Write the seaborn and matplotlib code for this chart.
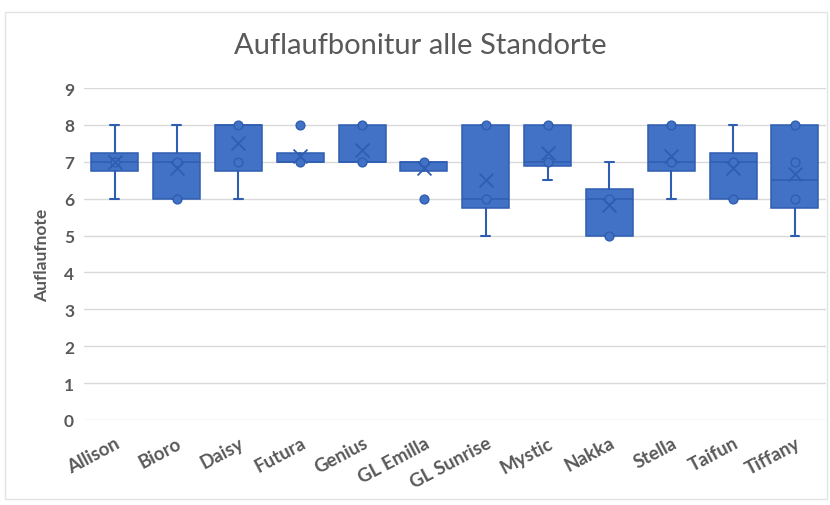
import numpy as np
import pandas as pd
import seaborn as sns
import matplotlib.pyplot as plt
from matplotlib.patches import Rectangle

# Auflaufnoten je Sorte (6 Standorte)
sorten = ["Allison", "Bioro", "Daisy", "Futura", "Genius", "GL Emilla",
          "GL Sunrise", "Mystic", "Nakka", "Stella", "Taifun", "Tiffany"]
allison = [6, 7, 7, 7, 7, 8]
bioro = [6, 6, 7, 7, 7, 8]
daisy = [6, 7, 8, 8, 8, 8]
futura = [7, 7, 7, 7, 7, 8]
genius = [7, 7, 7, 7, 8, 8]
gl_emilla = [6, 7, 7, 7, 7, 7]
gl_sunrise = [5, 6, 6, 6, 8, 8]
mystic = [6.5, 7, 7, 7, 8, 8]
nakka = [5, 5, 6, 6, 6, 7]
stella = [6, 7, 7, 7, 8, 8]
taifun = [6, 6, 7, 7, 7, 8]
tiffany = [5, 6, 6, 7, 8, 8]
werte = [allison, bioro, daisy, futura, genius, gl_emilla,
         gl_sunrise, mystic, nakka, stella, taifun, tiffany]

df = pd.DataFrame({"Sorte": np.repeat(sorten, [len(w) for w in werte]),
                   "Note": np.concatenate(werte)})

fill = "#4272C6"
edge = "#2F5DB0"
grey = "#595959"

# Excel-style stats (exclusive quartiles)
stats, inner, fliers = [], [], []
for i, w in enumerate(werte):
    w = np.array(w, dtype=float)
    q1, med, q3 = np.percentile(w, [25, 50, 75], method="weibull")
    iqr = q3 - q1
    lo_f, hi_f = q1 - 1.5 * iqr, q3 + 1.5 * iqr
    ok = w[(w >= lo_f) & (w <= hi_f)]
    stats.append(dict(med=med, q1=q1, q3=q3, whislo=ok.min(), whishi=ok.max(),
                      mean=w.mean(), fliers=[]))
    for v in np.unique(w[(w < lo_f) | (w > hi_f)]):
        fliers.append((sorten[i], v))
    for v in np.unique(w[(w >= q1) & (w <= q3)]):
        inner.append((sorten[i], v))
pts = pd.DataFrame(inner + fliers, columns=["Sorte", "Note"])
means = df.groupby("Sorte", sort=False)["Note"].mean().reset_index()

sns.set_style("white")
plt.rcParams["font.family"] = ["Lato", "DejaVu Sans"]

fig, ax = plt.subplots(figsize=(8.3, 5.06), dpi=100)
fig.subplots_adjust(left=0.101, right=0.995, bottom=0.168, top=0.824)

ax.bxp(stats, positions=range(len(sorten)), widths=0.76, patch_artist=True,
       showfliers=False, showcaps=True,
       boxprops=dict(facecolor=fill, edgecolor=edge, linewidth=1.1),
       medianprops=dict(color=edge, linewidth=1.1),
       whiskerprops=dict(color=edge, linewidth=1.5),
       capprops=dict(color=edge, linewidth=1.5), capwidths=0.14)

sns.scatterplot(data=pts, x="Sorte", y="Note", ax=ax, s=40, color=fill,
                edgecolor=edge, linewidth=1.0, zorder=4, legend=False)
sns.scatterplot(data=means, x="Sorte", y="Note", ax=ax, marker="x", s=100,
                color=edge, linewidth=1.3, zorder=5, legend=False)

ax.set_xlim(-0.5, len(sorten) - 0.5)
ax.set_ylim(0, 9)
ax.set_yticks(range(10))
ax.yaxis.grid(True, color="#D9D9D9", linewidth=1.0)
ax.set_axisbelow(True)
for s in ax.spines.values():
    s.set_visible(False)
ax.tick_params(axis="y", length=0, colors=grey, labelsize=12.5, pad=7)
ax.tick_params(axis="x", length=0, colors=grey, labelsize=13.5, pad=10)
ax.set_xticks(range(len(sorten)))
ax.set_xticklabels(sorten, rotation=28, ha="right", rotation_mode="anchor",
                   fontweight="bold")
for t in ax.get_yticklabels():
    t.set_fontweight("bold")
ax.set_xlabel("")
ax.set_ylabel("Auflaufnote", color=grey, fontsize=12.5, fontweight="bold",
              labelpad=10)
fig.suptitle("Auflaufbonitur alle Standorte", x=0.506, y=0.935, fontsize=21,
             color=grey)

fig.patches.append(Rectangle((0.006, 0.012), 0.99, 0.962, transform=fig.transFigure,
                             fill=False, edgecolor="#E3E3E3", linewidth=1))

fig.savefig("out.png", dpi=100)
